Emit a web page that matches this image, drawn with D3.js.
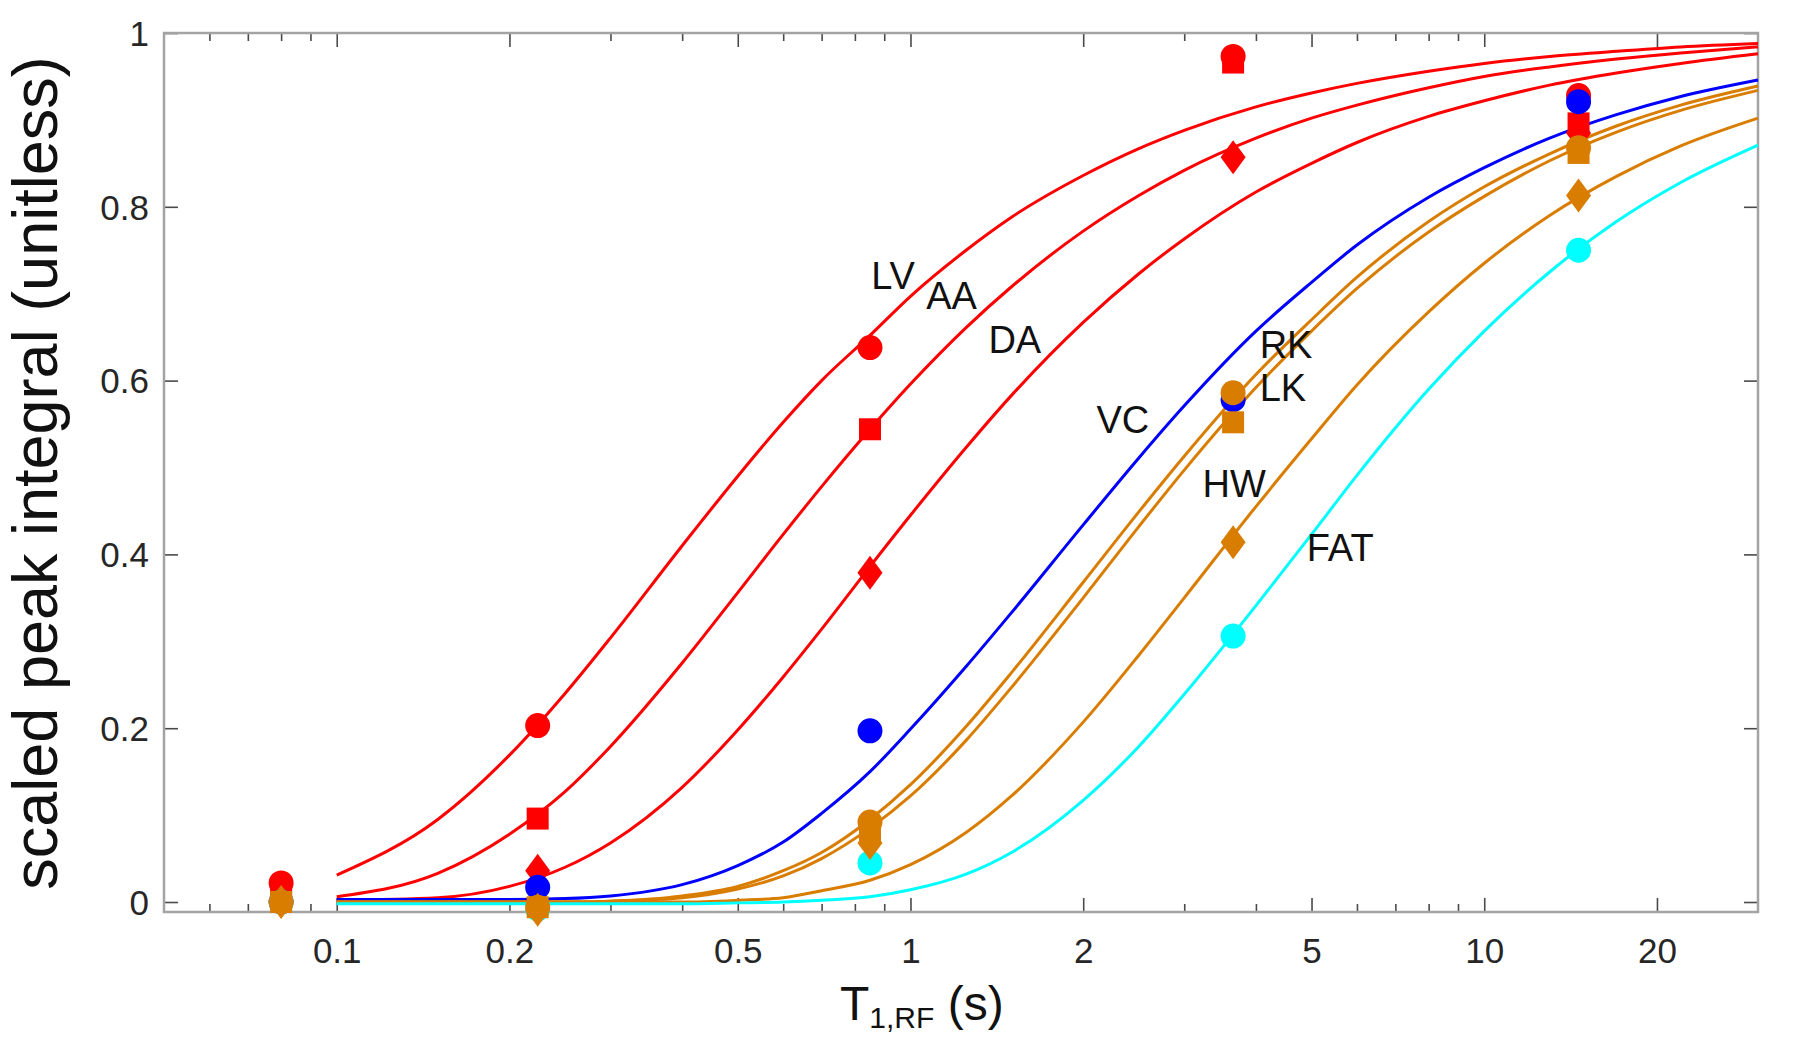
<!DOCTYPE html>
<html>
<head>
<meta charset="utf-8">
<script src="https://cdn.jsdelivr.net/npm/d3@7"></script>
<style>
  html, body { margin: 0; padding: 0; background: #ffffff; }
  svg { display: block; font-family: "Liberation Sans", Arial, Helvetica, sans-serif; }
</style>
</head>
<body>
<svg id="chart" width="1800" height="1043"></svg>
<script>
// ---------------- data ----------------
const seriesNames = ["LV", "AA", "DA", "VC", "RK", "LK", "HW", "FAT"];

// fitted curves, sampled at these T1,RF values (s)
const curveT = [0.1, 0.15, 0.2, 0.25, 0.3, 0.4, 0.5, 0.6, 0.7, 0.85, 1, 1.25, 1.5, 2, 2.5, 3, 4, 5, 6, 8, 10, 13, 17, 22, 30];
const curveLV  = [0.031, 0.095, 0.169, 0.240, 0.304, 0.410, 0.490, 0.552, 0.600, 0.652, 0.697, 0.750, 0.788, 0.836, 0.867, 0.888, 0.915, 0.931, 0.942, 0.956, 0.965, 0.973, 0.979, 0.984, 0.988];
const curveAA  = [0.006, 0.033, 0.078, 0.127, 0.179, 0.275, 0.356, 0.423, 0.478, 0.544, 0.596, 0.661, 0.708, 0.772, 0.813, 0.842, 0.879, 0.902, 0.917, 0.937, 0.950, 0.961, 0.970, 0.977, 0.984];
const curveDA  = [0.002, 0.005, 0.018, 0.040, 0.068, 0.132, 0.198, 0.259, 0.314, 0.386, 0.445, 0.523, 0.583, 0.667, 0.723, 0.763, 0.817, 0.850, 0.874, 0.904, 0.922, 0.940, 0.954, 0.965, 0.976];
const curveVC  = [0.003, 0.003, 0.003, 0.004, 0.007, 0.020, 0.042, 0.069, 0.102, 0.150, 0.199, 0.271, 0.333, 0.434, 0.511, 0.571, 0.657, 0.713, 0.756, 0.811, 0.845, 0.879, 0.906, 0.927, 0.946];
const curveRK  = [0.000, 0.000, 0.000, 0.000, 0.001, 0.007, 0.018, 0.036, 0.057, 0.095, 0.135, 0.202, 0.264, 0.368, 0.449, 0.513, 0.607, 0.670, 0.719, 0.783, 0.823, 0.861, 0.893, 0.917, 0.939];
const curveLK  = [0.000, 0.000, 0.000, 0.000, 0.001, 0.005, 0.015, 0.030, 0.050, 0.085, 0.122, 0.186, 0.247, 0.350, 0.432, 0.497, 0.592, 0.657, 0.706, 0.771, 0.812, 0.853, 0.886, 0.911, 0.934];
const curveHW  = [0.000, 0.000, 0.000, 0.000, 0.000, 0.000, 0.002, 0.005, 0.013, 0.025, 0.043, 0.080, 0.122, 0.207, 0.284, 0.350, 0.455, 0.533, 0.595, 0.679, 0.735, 0.790, 0.835, 0.870, 0.902];
const curveFAT = [-0.002, -0.002, -0.002, -0.002, -0.002, -0.002, -0.001, 0.000, 0.002, 0.006, 0.014, 0.032, 0.057, 0.117, 0.179, 0.239, 0.341, 0.423, 0.491, 0.590, 0.657, 0.725, 0.783, 0.828, 0.871];

// measured points
const markerT = [0.08, 0.224, 0.85, 3.65, 14.6];
const markLV  = [0.022, 0.203, 0.638, 0.973, 0.928];
const markAA  = [0.004, 0.096, 0.544, 0.966, 0.896];
const markDA  = [0.001, 0.036, 0.379, 0.857, 0.885];
const markVC  = [0.000, 0.017, 0.197, 0.578, 0.921];
const markRK  = [0.000, -0.006, 0.092, 0.586, 0.868];
const markLK  = [0.000, -0.006, 0.080, 0.552, 0.862];
const markHW  = [0.000, -0.009, 0.068, 0.414, 0.813];
const markFAT = [0.000, -0.008, 0.045, 0.306, 0.750];

// curve label anchors (data space)
const labelT = [0.854, 1.065, 1.367, 2.109, 4.06, 4.06, 3.229, 4.905];
const labelV = [0.705, 0.682, 0.632, 0.540, 0.6255, 0.577, 0.466, 0.392];

// ticks
const xMajorTicks = [0.1, 0.2, 0.5, 1, 2, 5, 10, 20];
const xMajorLabels = ["0.1", "0.2", "0.5", "1", "2", "5", "10", "20"];
const xMinorTicks = [0.06, 0.07, 0.08, 0.09, 0.3, 0.4, 0.6, 0.7, 0.8, 0.9, 3, 4, 6, 7, 8, 9];
const yTicks = [0, 0.2, 0.4, 0.6, 0.8, 1];
const yTickLabels = ["0", "0.2", "0.4", "0.6", "0.8", "1"];

// ---------------- styles ----------------
const curveData = [curveLV, curveAA, curveDA, curveVC, curveRK, curveLK, curveHW, curveFAT];
const markData = [markLV, markAA, markDA, markVC, markRK, markLK, markHW, markFAT];
const RED = "#ff0000", BLUE = "#0000ff", ORANGE = "#d97d00", CYAN = "#00ffff";
const seriesColor = [RED, RED, RED, BLUE, ORANGE, ORANGE, ORANGE, CYAN];
const seriesShape = ["circle", "square", "diamond", "circle", "circle", "square", "diamond", "circle"];
const markerOrder = [0, 1, 2, 3, 7, 4, 5, 6];

// ---------------- chart ----------------
(function draw() {
const svg = d3.select("#chart");
const pLeft = 164, pRight = 1758, pTop = 33, pBottom = 912;

const x = d3.scaleLog().domain([0.05, 30]).range([pLeft, pRight]);
const y = d3.scaleLinear().domain([-0.0115, 1]).range([pBottom, pTop]);

svg.append("rect").attr("width", 1800).attr("height", 1043).attr("fill", "#ffffff");

const TICK_COLOR = "#4a4a4a";
const LABEL_COLOR = "#262626";

function cleanAxis(g) {
  g.select(".domain").remove();
  g.attr("font-family", null).attr("font-size", null);
  g.selectAll(".tick line").attr("stroke", TICK_COLOR).attr("stroke-width", 1.6);
}

// bottom axis (major, labelled)
const gBottom = svg.append("g")
  .attr("transform", `translate(0,${pBottom})`)
  .call(d3.axisBottom(x).tickValues(xMajorTicks).tickSize(-14)
    .tickFormat((d, i) => xMajorLabels[i]))
  .call(cleanAxis);
gBottom.selectAll(".tick text")
  .attr("y", 51).attr("dy", null)
  .attr("font-size", 35).attr("fill", LABEL_COLOR);

// bottom minor
svg.append("g")
  .attr("transform", `translate(0,${pBottom})`)
  .call(d3.axisBottom(x).tickValues(xMinorTicks).tickSize(-8).tickFormat(""))
  .call(cleanAxis);

// top axis major + minor
svg.append("g")
  .attr("transform", `translate(0,${pTop})`)
  .call(d3.axisTop(x).tickValues(xMajorTicks).tickSize(-14).tickFormat(""))
  .call(cleanAxis);
svg.append("g")
  .attr("transform", `translate(0,${pTop})`)
  .call(d3.axisTop(x).tickValues(xMinorTicks).tickSize(-8).tickFormat(""))
  .call(cleanAxis);

// left axis
const gLeft = svg.append("g")
  .attr("transform", `translate(${pLeft},0)`)
  .call(d3.axisLeft(y).tickValues(yTicks).tickSize(-14).tickPadding(15)
    .tickFormat((d, i) => yTickLabels[i]))
  .call(cleanAxis);
gLeft.selectAll(".tick text")
  .attr("dy", "0.35em")
  .attr("font-size", 35).attr("fill", LABEL_COLOR);

// right axis
svg.append("g")
  .attr("transform", `translate(${pRight},0)`)
  .call(d3.axisRight(y).tickValues(yTicks).tickSize(-14).tickFormat(""))
  .call(cleanAxis);

// frame
svg.append("rect")
  .attr("x", pLeft).attr("y", pTop)
  .attr("width", pRight - pLeft).attr("height", pBottom - pTop)
  .attr("fill", "none").attr("stroke", "#a3a3a3").attr("stroke-width", 2.5);

// axis titles
const xTitle = svg.append("text")
  .attr("x", 840).attr("y", 1020)
  .attr("font-size", 48).attr("fill", "#111");
xTitle.append("tspan").text("T");
xTitle.append("tspan").attr("font-size", 30).attr("dy", 8).text("1,RF");
xTitle.append("tspan").attr("dy", -8).text(" (s)");

svg.append("text")
  .attr("transform", "translate(57,473) rotate(-90)")
  .attr("text-anchor", "middle")
  .attr("font-size", 63).attr("fill", "#111")
  .text("scaled peak integral (unitless)");

// curves
const line = d3.line()
  .x(d => x(d[0]))
  .y(d => y(d[1]))
  .curve(d3.curveMonotoneX);

const gLines = svg.append("g");
seriesNames.forEach((name, s) => {
  const pts = curveT.map((t, i) => [t, curveData[s][i]]);
  gLines.append("path")
    .datum(pts)
    .attr("d", line)
    .attr("fill", "none")
    .attr("stroke", seriesColor[s])
    .attr("stroke-width", 3)
    .attr("stroke-linejoin", "round");
});

// markers
function markerPath(shape, cx, cy) {
  if (shape === "circle") {
    const r = 12.5;
    return `M${cx + r},${cy}A${r},${r} 0 1,1 ${cx - r},${cy}A${r},${r} 0 1,1 ${cx + r},${cy}Z`;
  }
  if (shape === "square") {
    const h = 11;
    return `M${cx - h},${cy - h}H${cx + h}V${cy + h}H${cx - h}Z`;
  }
  const w = 12.5, hh = 17;
  return `M${cx},${cy - hh}L${cx + w},${cy}L${cx},${cy + hh}L${cx - w},${cy}Z`;
}

const gMarks = svg.append("g");
markerOrder.forEach(s => {
  markerT.forEach((t, i) => {
    gMarks.append("path")
      .attr("d", markerPath(seriesShape[s], x(t), y(markData[s][i])))
      .attr("fill", seriesColor[s]);
  });
});

// curve labels
const gLabels = svg.append("g");
seriesNames.forEach((name, s) => {
  gLabels.append("text")
    .attr("x", x(labelT[s]))
    .attr("y", y(labelV[s]))
    .attr("font-size", 38)
    .attr("fill", "#111")
    .text(name);
});
})();
</script>
</body>
</html>
